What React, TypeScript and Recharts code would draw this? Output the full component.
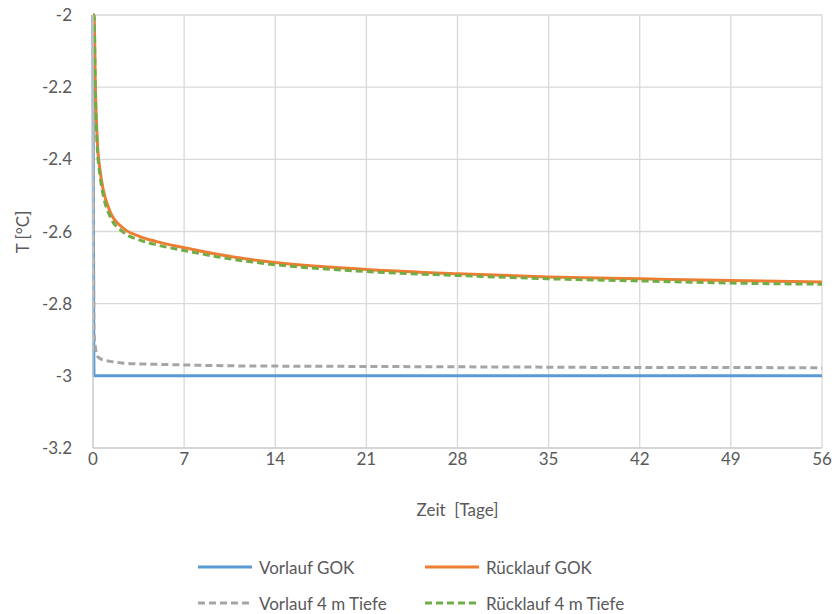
import { CartesianGrid, Line, LineChart, XAxis, YAxis } from 'recharts';

// Zeit [Tage]
const days = [0, 0.08, 0.18, 0.33, 0.54, 0.79, 1.31, 2.33, 3.61, 4.89, 7.2, 10, 14, 21, 28, 35, 42, 49, 56];

const vorlaufGok = [-2, -3, -3, -3, -3, -3, -3, -3, -3, -3, -3, -3, -3, -3, -3, -3, -3, -3, -3];
const ruecklaufGok = [-2, -2.0, -2.2, -2.35, -2.43, -2.485, -2.545, -2.591, -2.614, -2.628, -2.646, -2.666, -2.686, -2.705, -2.717, -2.726, -2.731, -2.736, -2.74];
const vorlauf4m = [-2, -2.88, -2.92, -2.945, -2.952, -2.956, -2.96, -2.965, -2.967, -2.968, -2.97, -2.972, -2.973, -2.974, -2.975, -2.976, -2.977, -2.977, -2.978];
const ruecklauf4m = [-2, -2.0, -2.21, -2.365, -2.445, -2.5, -2.558, -2.602, -2.624, -2.637, -2.654, -2.673, -2.692, -2.711, -2.722, -2.731, -2.737, -2.743, -2.746];

const xTicks = [0, 7, 14, 21, 28, 35, 42, 49, 56];
const yTicks = [-3.2, -3, -2.8, -2.6, -2.4, -2.2, -2];

const series = [
  { key: 'vg', name: 'Vorlauf GOK', color: '#5b9bd5', dash: undefined },
  { key: 'rg', name: 'Rücklauf GOK', color: '#ed7d31', dash: undefined },
  { key: 'v4', name: 'Vorlauf 4 m Tiefe', color: '#a5a5a5', dash: '7 4' },
  { key: 'r4', name: 'Rücklauf 4 m Tiefe', color: '#70ad47', dash: '7 4' },
];

const data = days.map((d, i) => ({
  d,
  vg: vorlaufGok[i],
  rg: ruecklaufGok[i],
  v4: vorlauf4m[i],
  r4: ruecklauf4m[i],
}));

const font = 'Lato, "Open Sans", sans-serif';
const textColor = '#595959';

function LegendBox() {
  return (
    <div
      style={{
        position: 'absolute',
        left: 198,
        top: 556,
        display: 'grid',
        gridTemplateColumns: '227px 230px',
        rowGap: 14,
        fontFamily: font,
        fontSize: 17,
        color: textColor,
      }}
    >
      {series.map((s) => (
        <div key={s.key} style={{ display: 'flex', alignItems: 'center', height: 22 }}>
          <svg width={56} height={6} style={{ marginRight: 5 }}>
            <line x1={0} y1={3} x2={54} y2={3} stroke={s.color} strokeWidth={3} strokeDasharray={s.dash} />
          </svg>
          <span>{s.name}</span>
        </div>
      ))}
    </div>
  );
}

export default function App() {
  return (
    <div style={{ position: 'absolute', left: 0, top: 0, width: 834, height: 614, background: '#fff' }}>
      <LineChart width={834} height={614} data={data} margin={{ top: 15, right: 12, bottom: 96, left: 0 }}>
        <CartesianGrid stroke="#d9d9d9" strokeWidth={1.3} />
        <XAxis
          dataKey="d"
          type="number"
          domain={[0, 56]}
          ticks={xTicks}
          interval={0}
          height={70}
          tickLine={false}
          tickSize={0}
          tickMargin={5}
          axisLine={{ stroke: '#d0d0d0', strokeWidth: 1.3 }}
          tick={{ fill: textColor, fontSize: 17, fontFamily: font }}
          label={{
            value: 'Zeit\u00a0 [Tage]',
            position: 'insideBottom',
            offset: 2,
            fill: textColor,
            fontSize: 17,
            fontFamily: font,
          }}
        />
        <YAxis
          type="number"
          domain={[-3.2, -2]}
          ticks={yTicks}
          interval={0}
          width={93}
          tickLine={false}
          tickSize={0}
          tickMargin={21}
          axisLine={{ stroke: '#d0d0d0', strokeWidth: 1.3 }}
          tickFormatter={(v: number) => String(Number(v.toFixed(1)))}
          tick={{ fill: textColor, fontSize: 17, fontFamily: font }}
          label={{
            content: () => (
              <text
                x={22}
                y={232}
                transform="rotate(-90 22 232)"
                textAnchor="middle"
                dominantBaseline="central"
                fill={textColor}
                fontSize={17}
                fontFamily={font}
              >
                T [°C]
              </text>
            ),
          }}
        />
        {series.map((s) => (
          <Line
            key={s.key}
            dataKey={s.key}
            name={s.name}
            type="monotone"
            stroke={s.color}
            strokeWidth={3}
            strokeDasharray={s.dash}
            dot={false}
            isAnimationActive={false}
          />
        ))}
      </LineChart>
      <LegendBox />
    </div>
  );
}
